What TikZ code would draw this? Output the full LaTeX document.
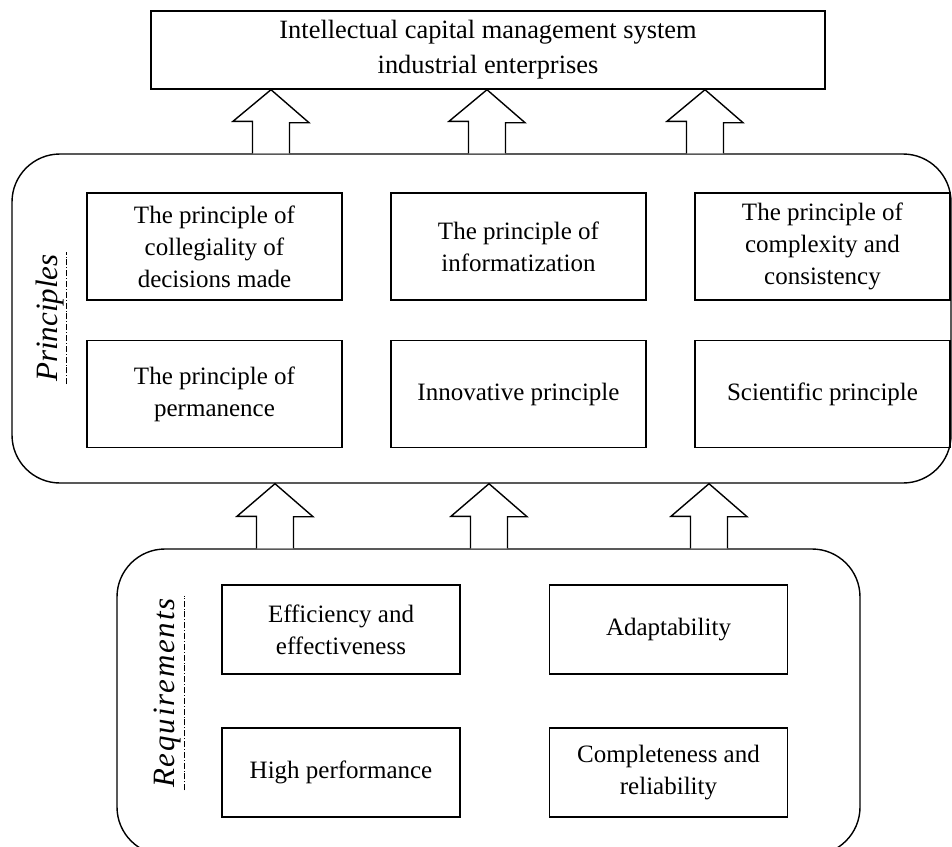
\documentclass[tikz,border=0pt]{standalone}
\usepackage{fontspec}
\setmainfont{Liberation Serif}
\usetikzlibrary{positioning}

\tikzset{
  box/.style={draw, line width=0.7pt, align=center, inner sep=0pt,
    font=\fontsize{12.5}{16}\selectfont},
  pbox/.style={box, minimum width=127.5pt, minimum height=53.5pt},
  rbox/.style={box, minimum width=119pt, minimum height=44.5pt},
  frame/.style={draw, line width=0.7pt, rounded corners=24pt, inner sep=0pt},
  side/.style={rotate=90, inner sep=1pt,
    font=\fontsize{15.5}{18}\selectfont\itshape},
  blockarrow/.style={draw, fill=white, line width=0.7pt},
}

\begin{document}
\begin{tikzpicture}[x=0.5pt, y=-0.5pt]
\useasboundingbox (0,0) rectangle (952,846);
\clip (0,0) rectangle (952,846);

% the system on top
\node[box, minimum width=337pt, minimum height=39pt, font=\fontsize{13.2}{17.5}\selectfont]
  (ics) at (488,50) {Intellectual capital management system\\industrial enterprises};

% the two rounded groups
\node[frame, minimum width=469.5pt, minimum height=164.5pt] (prin) at (481.5,318.5) {};
\node[frame, minimum width=371.5pt, minimum height=153pt] (req) at (488.5,702) {};

% principles
\node[pbox] (p1) at (214.5,246.5) {The principle of\\collegiality of\\decisions made};
\node[pbox] (p2) at (518.5,246.5) {The principle of\\informatization};
\node[pbox] (p3) at (822.5,246.5) {The principle of\\complexity and\\consistency};
\node[pbox] (p4) at (214.5,394) {The principle of\\permanence};
\node[pbox] (p5) at (518.5,394) {Innovative principle};
\node[pbox] (p6) at (822.5,394) {Scientific principle};

% requirements
\node[rbox] (r1) at (341,629.5) {Efficiency and\\effectiveness};
\node[rbox] (r2) at (668.5,629.5) {Adaptability};
\node[rbox] (r3) at (341,772.5) {High performance};
\node[rbox] (r4) at (668.5,772.5) {Completeness and\\reliability};

% side titles
\node[side] (plab) at (50,318) {Principles};
\draw[densely dashdotted, line width=0.4pt] (plab.south west) -- (plab.south east);
\node[side, font=\fontsize{15.5}{18}\selectfont\itshape\addfontfeature{LetterSpace=6}]
  (rlab) at (168,693) {Requirements};
\draw[densely dashdotted, line width=0.4pt] (rlab.south west) -- (rlab.south east);

% block arrows
\foreach \x in {271,487,705}
  \draw[blockarrow] (\x-18.5,0 |- prin.north) -- ++(0,-32) -- ++(-19.5,0)
    -- (\x,0 |- ics.south) -- ++(38,33) -- ++(-19.5,0) -- (\x+18.5,0 |- prin.north);
\foreach \x in {275,489,709}
  \draw[blockarrow] (\x-18.5,0 |- req.north) -- ++(0,-32) -- ++(-19.5,0)
    -- (\x,0 |- prin.south) -- ++(38,33) -- ++(-19.5,0) -- (\x+18.5,0 |- req.north);
\end{tikzpicture}
\end{document}
